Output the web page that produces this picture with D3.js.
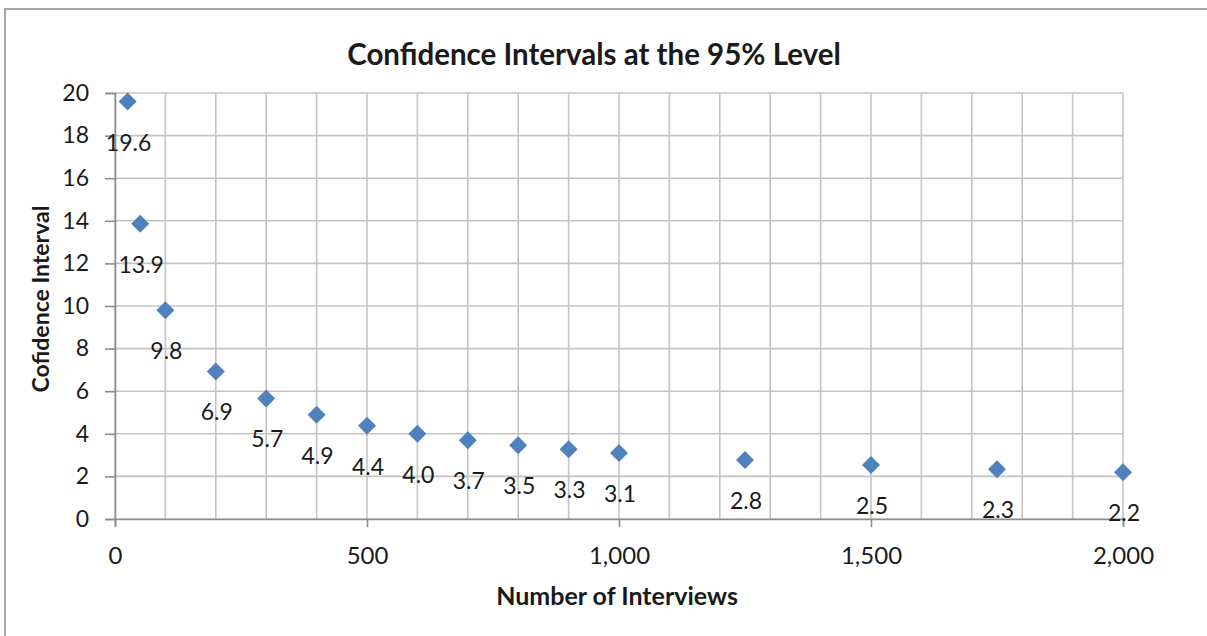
<!DOCTYPE html>
<html>
<head>
<meta charset="utf-8">
<script src="https://cdn.jsdelivr.net/npm/d3@7"></script>
<style>
  html, body { margin: 0; padding: 0; background: #fff; }
  svg { display: block; }
  text { font-family: Lato, "Open Sans", sans-serif; fill: #1a1a1a; }
</style>
</head>
<body>
<svg id="chart" width="1207" height="636"></svg>
<script>
// ---- data ----
const interviews = [25, 50, 100, 200, 300, 400, 500, 600, 700, 800, 900, 1000, 1250, 1500, 1750, 2000];
const confidence = [19.6, 13.86, 9.8, 6.93, 5.66, 4.9, 4.38, 4.0, 3.7, 3.46, 3.27, 3.1, 2.77, 2.53, 2.34, 2.19];
const xTicks = [0, 500, 1000, 1500, 2000];
const yTicks = [0, 2, 4, 6, 8, 10, 12, 14, 16, 18, 20];
const xGrid = d3.range(0, 2001, 100);
const title = "Confidence Intervals at the 95% Level";
const xTitle = "Number of Interviews";
const yTitle = "Cofidence Interval";

// ---- layout ----
const svg = d3.select("#chart");
const L = 115, R = 1123, T = 93, B = 519;

const x = d3.scaleLinear().domain([0, 2000]).range([L, R]);
const y = d3.scaleLinear().domain([0, 20]).range([B, T]);

// outer chart border (only top/left visible)
svg.append("rect").attr("x", 5).attr("y", 9).attr("width", 1230).attr("height", 660)
  .attr("fill", "#fff").attr("stroke", "#a6a6a6").attr("stroke-width", 2);

// gridlines
svg.append("g").selectAll("line").data(xGrid).join("line")
  .attr("x1", d => x(d)).attr("x2", d => x(d)).attr("y1", T).attr("y2", B)
  .attr("stroke", "#c4c4c4").attr("stroke-width", 1.6);
svg.append("g").selectAll("line").data(yTicks).join("line")
  .attr("x1", L).attr("x2", R).attr("y1", d => y(d)).attr("y2", d => y(d))
  .attr("stroke", "#c4c4c4").attr("stroke-width", 1.6);

// axes
const fmt = d3.format(",");
const xAxis = svg.append("g").attr("transform", `translate(0,${B})`)
  .call(d3.axisBottom(x).tickValues(xTicks).tickFormat(fmt).tickSize(8).tickPadding(20));
const yAxis = svg.append("g").attr("transform", `translate(${L},0)`)
  .call(d3.axisLeft(y).tickValues(yTicks).tickSize(10).tickPadding(16));
[xAxis, yAxis].forEach(a => {
  a.select(".domain").attr("stroke", "#8c8c8c").attr("stroke-width", 1.6);
  a.selectAll(".tick line").attr("stroke", "#8c8c8c").attr("stroke-width", 1.6);
  a.selectAll(".tick text").style("font-family", "Lato, sans-serif").attr("fill", "#1a1a1a");
});
xAxis.selectAll(".tick text").style("font-size", "24px");
yAxis.selectAll(".tick text").style("font-size", "23px");

// points
svg.append("g").selectAll("path").data(interviews).join("path")
  .attr("transform", (d, i) => `translate(${x(d)},${y(confidence[i])})`)
  .attr("d", "M0,-9L9,0L0,9L-9,0Z")
  .attr("fill", "#4f81bd");

// data labels
svg.append("g").selectAll("text").data(interviews).join("text")
  .attr("x", (d) => x(d) + 1)
  .attr("y", (d, i) => y(confidence[i]) + 40)
  .attr("text-anchor", "middle").attr("dominant-baseline", "central")
  .style("font-size", "23px")
  .text((d, i) => d3.format(".1f")(confidence[i]));

// titles
svg.append("text").attr("x", 594).attr("y", 53).attr("text-anchor", "middle")
  .attr("dominant-baseline", "central").style("font-size", "29.5px").style("font-weight", "bold").text(title);
svg.append("text").attr("x", 617).attr("y", 595).attr("text-anchor", "middle")
  .attr("dominant-baseline", "central").style("font-size", "25px").style("font-weight", "bold").text(xTitle);
svg.append("text").attr("transform", "translate(40,299) rotate(-90)").attr("text-anchor", "middle")
  .attr("dominant-baseline", "central").style("font-size", "23px").style("font-weight", "bold").text(yTitle);
</script>
</body>
</html>
